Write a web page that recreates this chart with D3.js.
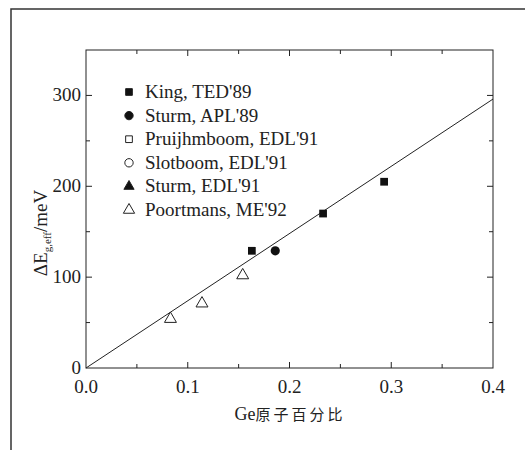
<!DOCTYPE html>
<html>
<head>
<meta charset="utf-8">
<script src="https://cdn.jsdelivr.net/npm/d3@7"></script>
<style>
  body { margin: 0; background: #fff; }
</style>
</head>
<body>
<svg id="chart" width="525" height="450"></svg>
<script>
const kingX = [0.163, 0.233, 0.293];
const kingY = [129, 170, 205];
const sturmApl = [[0.186, 129]];
const poortX = [0.083, 0.114, 0.154];
const poortY = [54, 71, 102];
const fitLine = [[0, 0], [0.4, 296]];
const legendLabels = ["King, TED'89", "Sturm, APL'89", "Pruijhmboom, EDL'91", "Slotboom, EDL'91", "Sturm, EDL'91", "Poortmans, ME'92"];
const xTicks = [0, 0.1, 0.2, 0.3, 0.4];
const yTicks = [0, 100, 200, 300];

const svg = d3.select("#chart");
const pLeft = 86, pRight = 493, pTop = 50, pBottom = 368;

// outer frame
svg.append("rect").attr("x", 11).attr("y", 9).attr("width", 530).attr("height", 460)
  .attr("fill", "none").attr("stroke", "#333").attr("stroke-width", 1.5);

const x = d3.scaleLinear().domain([0, 0.4]).range([pLeft, pRight]);
const y = d3.scaleLinear().domain([0, 350]).range([pBottom, pTop]);

const g = svg.append("g");

// plot box
g.append("rect").attr("x", pLeft).attr("y", pTop).attr("width", pRight - pLeft).attr("height", pBottom - pTop)
  .attr("fill", "none").attr("stroke", "#222").attr("stroke-width", 1);

// ticks, pointing inward on all four sides
const xMinor = d3.range(0.05, 0.4, 0.1);
const yMinor = d3.range(50, 350, 100);
function ticksX(vals, len) {
  vals.forEach(v => {
    g.append("line").attr("x1", x(v)).attr("x2", x(v)).attr("y1", pBottom).attr("y2", pBottom - len).attr("stroke", "#222");
    g.append("line").attr("x1", x(v)).attr("x2", x(v)).attr("y1", pTop).attr("y2", pTop + len).attr("stroke", "#222");
  });
}
function ticksY(vals, len) {
  vals.forEach(v => {
    g.append("line").attr("y1", y(v)).attr("y2", y(v)).attr("x1", pLeft).attr("x2", pLeft + len).attr("stroke", "#222");
    g.append("line").attr("y1", y(v)).attr("y2", y(v)).attr("x1", pRight).attr("x2", pRight - len).attr("stroke", "#222");
  });
}
ticksX(xTicks.slice(1, 4), 6);
ticksX(xMinor, 4);
ticksY(yTicks.slice(1), 6);
ticksY(yMinor, 4);

g.selectAll(".xl").data(xTicks).enter().append("text")
  .attr("x", d => x(d)).attr("y", pBottom + 25).attr("text-anchor", "middle")
  .attr("font-size", 19).text(d => d.toFixed(1));
g.selectAll(".yl").data(yTicks).enter().append("text")
  .attr("x", pLeft - 5).attr("y", d => y(d) + 6).attr("text-anchor", "end")
  .attr("font-size", 19).text(d => d);

// axis titles
const xt = g.append("text").attr("x", 290).attr("y", 420).attr("text-anchor", "middle").attr("font-size", 18);
xt.append("tspan").text("Ge");
xt.append("tspan").attr("class", "cjk").attr("font-size", 15).attr("letter-spacing", 3).text("原子百分比");
const yt = g.append("text").attr("transform", "translate(47,233) rotate(-90)")
  .attr("text-anchor", "middle").attr("font-size", 19);
yt.append("tspan").text("ΔE");
yt.append("tspan").attr("font-size", 11).attr("dy", 4).text("g,eff");
yt.append("tspan").attr("dy", -4).text("/meV");

// fit line
g.append("path").datum(fitLine).attr("fill", "none").attr("stroke", "#222").attr("stroke-width", 1)
  .attr("d", d3.line().x(d => x(d[0])).y(d => y(d[1])));

const sq = d3.symbol().type(d3.symbolSquare).size(60);
const ci = d3.symbol().type(d3.symbolCircle).size(66);
const tri = d3.symbol().type(d3.symbolTriangle).size(62);

g.selectAll(".king").data(kingX).enter().append("path")
  .attr("transform", (d, i) => `translate(${x(d)},${y(kingY[i])})`)
  .attr("d", sq).attr("fill", "#111");
g.selectAll(".sturm").data(sturmApl).enter().append("path")
  .attr("transform", d => `translate(${x(d[0])},${y(d[1])})`)
  .attr("d", ci).attr("fill", "#111");
g.selectAll(".poort").data(poortX).enter().append("path")
  .attr("transform", (d, i) => `translate(${x(d)},${y(poortY[i])})`)
  .attr("d", tri).attr("fill", "#fff").attr("stroke", "#222").attr("stroke-width", 1);

// legend
const legSyms = [
  { t: d3.symbolSquare, s: 45, fill: "#111" },
  { t: d3.symbolCircle, s: 55, fill: "#111" },
  { t: d3.symbolSquare, s: 45, fill: "none" },
  { t: d3.symbolCircle, s: 55, fill: "none" },
  { t: d3.symbolTriangle, s: 45, fill: "#111" },
  { t: d3.symbolTriangle, s: 55, fill: "none" }
];
const leg = g.selectAll(".leg").data(legendLabels).enter().append("g")
  .attr("transform", (d, i) => `translate(129,${92 + i * 23.6})`);
leg.append("path").attr("d", (d, i) => d3.symbol().type(legSyms[i].t).size(legSyms[i].s)())
  .attr("fill", (d, i) => legSyms[i].fill).attr("stroke", "#222").attr("stroke-width", 1);
leg.append("text").attr("x", 16).attr("y", 6).attr("font-size", 19).text(d => d);

// fonts set on each text node
svg.selectAll("text").attr("font-family", "Liberation Serif").attr("fill", "#222");
svg.selectAll("tspan.cjk").attr("font-family", "Noto Sans CJK SC");
</script>
</body>
</html>
